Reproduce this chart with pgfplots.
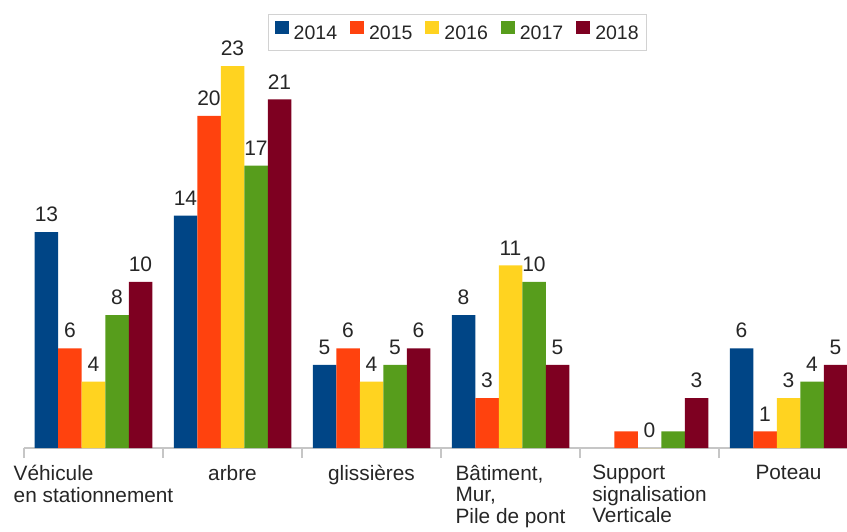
\documentclass[border=0pt]{standalone}
\usepackage{pgfplots}
\pgfplotsset{compat=1.18}
\usepackage{fontspec}
\setmainfont{Liberation Sans}
\definecolor{c14}{HTML}{004586}
\definecolor{c15}{HTML}{FF420E}
\definecolor{c16}{HTML}{FFD320}
\definecolor{c17}{HTML}{579D1C}
\definecolor{c18}{HTML}{7E0021}
\begin{document}
\begin{tikzpicture}[x=1pt,y=1pt]
\path[use as bounding box] (0,0) rectangle (847,531);
\clip (0,0) rectangle (847,531);
\begin{axis}[
  at={(24pt,83pt)}, anchor=south west,
  scale only axis, width=834pt, height=434pt,
  xmin=-0.5, xmax=5.5, ymin=0, ymax=26.14,
  ybar=0pt, bar width=23.5pt,
  axis x line*=bottom, axis y line=none,
  x axis line style={gray!45, line width=1.2pt},
  xtick={0,...,5},
  xticklabels={{Véhicule\\en stationnement},arbre,glissières,{Bâtiment,\\Mur,\\Pile de pont},{Support\\signalisation\\Verticale},Poteau},
  major tick length=0pt,
  xticklabel style={anchor=north, align=left, inner sep=0pt, yshift=-17pt,
    font=\fontsize{20.8}{21.5}\selectfont, text=black!85},
  extra x ticks={-0.5,0.5,1.5,2.5,3.5,4.5,5.5},
  extra x tick labels={},
  extra x tick style={major tick length=10pt, tick align=outside,
    tick style={gray!45, line width=1.2pt}},
  point meta=explicit symbolic,
  nodes near coords,
  every node near coord/.append style={font=\fontsize{21}{23}\selectfont, text=black!85,
    inner sep=0pt, anchor=south, yshift=10pt},
  legend columns=5,
  legend style={at={(0.52,1)}, anchor=north, draw=gray!35, line width=0.8pt,
    font=\fontsize{19.5}{21}\selectfont, text=black!85, inner xsep=6pt, inner ysep=7pt,
    /tikz/every odd column/.append style={column sep=3pt},
    /tikz/every even column/.append style={column sep=11pt}},
  legend image code/.code={\fill[#1] (0pt,-1pt) rectangle (14pt,12pt);},
]
\addplot[fill=c14, draw=none] coordinates {(0,13) [13] (1,14) [14] (2,5) [5] (3,8) [8] (5,6) [6]};
\addplot[fill=c15, draw=none] coordinates {(0,6) [6] (1,20) [20] (2,6) [6] (3,3) [3] (4,1) [{}] (5,1) [1]};
\addplot[fill=c16, draw=none] coordinates {(0,4) [4] (1,23) [23] (2,4) [4] (3,11) [11] (4,0) [0] (5,3) [3]};
\addplot[fill=c17, draw=none] coordinates {(0,8) [8] (1,17) [17] (2,5) [5] (3,10) [10] (4,1) [{}] (5,4) [4]};
\addplot[fill=c18, draw=none] coordinates {(0,10) [10] (1,21) [21] (2,6) [6] (3,5) [5] (4,3) [3] (5,5) [5]};
\legend{2014,2015,2016,2017,2018}
\end{axis}
\end{tikzpicture}
\end{document}
